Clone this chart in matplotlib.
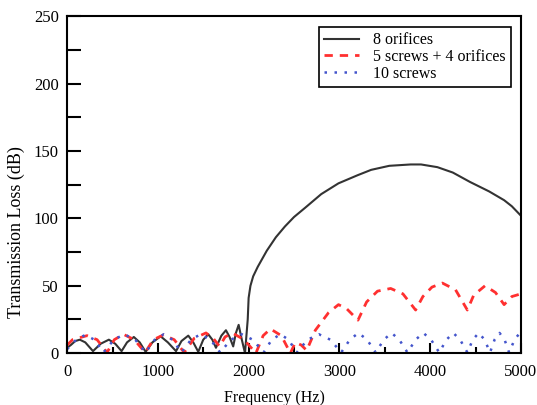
import numpy as np
import matplotlib
matplotlib.use("Agg")
import matplotlib.pyplot as plt
from matplotlib.ticker import MultipleLocator

# 8 orifices
f_orif = [0, 40, 90, 140, 200, 285, 370, 460, 530, 600, 660, 735, 800, 865, 940,
          1030, 1110, 1200, 1260, 1335, 1390, 1445, 1500, 1555, 1600, 1640, 1700,
          1750, 1790, 1830, 1860, 1890, 1925, 1960, 1990, 2000, 2020, 2050, 2100,
          2150, 2200, 2300, 2400, 2500, 2625, 2800, 2990, 3200, 3350, 3550, 3785,
          3900, 4080, 4250, 4440, 4650, 4815, 4900, 5000]
tl_orif = [4, 6, 9, 10, 8, 1.5, 7, 10, 7, 1.5, 8, 12, 8, 1, 8,
           12.5, 8, 1.5, 9, 13, 8, 1, 10, 14, 10, 4, 13,
           17, 12, 5, 15, 21, 10, 0, 25, 41, 50, 57, 64,
           70, 76, 86, 94, 101, 108, 118, 126, 132, 136, 139, 140,
           140, 138, 134, 127, 120, 113.5, 109, 102]

# 5 screws + 4 orifices
f_mix = [0, 60, 220, 330, 440, 520, 620, 740, 860, 950, 1060, 1180, 1290,
         1400, 1530, 1610, 1680, 1740, 1820, 1950, 2080, 2160, 2240, 2360, 2460,
         2515, 2580, 2640, 2735, 2880, 2990, 3080, 3205, 3300, 3420, 3565, 3700,
         3840, 3920, 4020, 4135, 4280, 4410, 4480, 4605, 4720, 4815, 4900, 5000]
tl_mix = [6, 10, 13, 10, 0.5, 10, 14, 10, 0.5, 10, 13.5, 10, 0.5,
          11, 15, 11, 5, 12, 15, 10, 0, 13, 18, 13, 0,
          8, 6, 2, 17, 30, 36, 33, 24.5, 38, 46, 48, 44,
          32, 42, 49, 52, 47, 32, 43, 50, 45, 36, 42, 44]

# 10 screws
f_scr = [0, 100, 200, 300, 400, 515, 630, 750, 865, 965, 1065, 1160, 1260,
         1365, 1470, 1580, 1685, 1805, 1925, 2045, 2165, 2255, 2350, 2440, 2530,
         2650, 2775, 2900, 3020, 3115, 3210, 3305, 3400, 3490, 3575, 3660, 3750,
         3840, 3925, 4010, 4100, 4180, 4255, 4330, 4410, 4470, 4535, 4600, 4660,
         4710, 4765, 4820, 4870, 4930, 5000]
tl_scr = [3, 10, 13.5, 10, 0.5, 10, 14, 10, 0.5, 10, 14, 10, 0.5,
          10, 14, 10, 0.5, 10, 14, 10, 0.5, 10, 14, 10, 0.5,
          10, 14, 10, 0.5, 10, 15, 10, 0.5, 10, 15, 10, 0.5,
          10, 15, 10, 0.5, 10, 15, 10, 0.5, 10, 15, 10, 0.5,
          10, 15, 10, 0.5, 10, 16]

plt.rcParams['font.family'] = ['Liberation Serif', 'DejaVu Serif']

fig = plt.figure(figsize=(5.37, 4.05), dpi=100)
ax = fig.add_axes([0.125, 0.128, 0.845, 0.832])

ax.plot(f_orif, tl_orif, color="#333333", linewidth=1.5, label="8 orifices")
ax.plot(f_mix, tl_mix, color="#ff3030", linewidth=2, linestyle=(0, (3, 2.5)),
        label="5 screws + 4 orifices")
ax.plot(f_scr, tl_scr, color="#4455cc", linewidth=1.8, linestyle=(0, (1, 3)),
        label="10 screws")

ax.set_xlim(0, 5000)
ax.set_ylim(0, 250)
ax.xaxis.set_major_locator(MultipleLocator(1000))
ax.xaxis.set_minor_locator(MultipleLocator(500))
ax.yaxis.set_major_locator(MultipleLocator(50))
ax.yaxis.set_minor_locator(MultipleLocator(25))
ax.tick_params(which="both", direction="in", labelsize=12, width=1.5)
ax.tick_params(axis="x", which="major", length=7, pad=8)
ax.tick_params(axis="x", which="minor", length=4)
ax.tick_params(axis="y", which="both", length=10, pad=6)
for s in ax.spines.values():
    s.set_linewidth(1.5)

ax.set_xlabel("Frequency (Hz)", fontsize=11.5)
ax.xaxis.set_label_coords(0.457, -0.11)
ax.set_ylabel("Transmission Loss (dB)", fontsize=13)
ax.yaxis.set_label_coords(-0.092, 0.36)

leg = ax.legend(loc="upper right", bbox_to_anchor=(0.978, 0.967), fontsize=11.5,
                fancybox=False, edgecolor="black", framealpha=1,
                handlelength=2.2, borderaxespad=0, labelspacing=0.05,
                handletextpad=0.9, borderpad=0.3)
leg.get_frame().set_linewidth(1.2)

fig.savefig("out.png", dpi=100)
